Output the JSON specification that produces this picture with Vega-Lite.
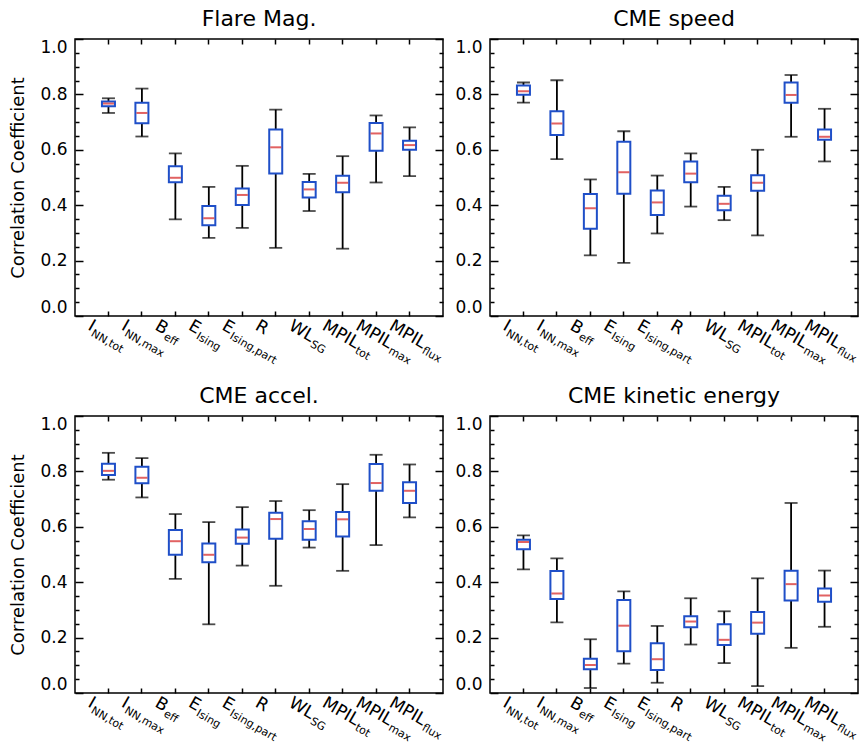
{
"$schema": "https://vega.github.io/schema/vega-lite/v6.json",
"padding": {"left": 9, "top": 7, "right": 4, "bottom": 0},
"background": "white",
"config": {
 "view": {"stroke": "black", "strokeWidth": 1.5},
 "font": "DejaVu Sans",
 "axis": {"domainColor": "black", "domainWidth": 1.5, "tickColor": "black", "tickWidth": 1.5, "labelColor": "black", "labelFont": "DejaVu Sans", "labelFontSize": 17, "titleFont": "DejaVu Sans", "titleFontSize": 18, "titleFontWeight": "normal", "titleColor": "black", "grid": false},
 "title": {"font": "DejaVu Sans", "fontSize": 22, "fontWeight": "normal", "color": "black", "offset": 7}
},
"datasets": {"d": [
{"panel":"Flare Mag.","param":"I_NN,tot","main":"I","sub":"NN,tot","lo":0.733,"q1":0.757,"med":0.767,"q3":0.774,"hi":0.786},
{"panel":"Flare Mag.","param":"I_NN,max","main":"I","sub":"NN,max","lo":0.648,"q1":0.696,"med":0.733,"q3":0.770,"hi":0.821},
{"panel":"Flare Mag.","param":"B_eff","main":"B","sub":"eff","lo":0.349,"q1":0.483,"med":0.499,"q3":0.541,"hi":0.587},
{"panel":"Flare Mag.","param":"E_Ising","main":"E","sub":"Ising","lo":0.282,"q1":0.328,"med":0.353,"q3":0.397,"hi":0.466},
{"panel":"Flare Mag.","param":"E_Ising,part","main":"E","sub":"Ising,part","lo":0.318,"q1":0.401,"med":0.437,"q3":0.460,"hi":0.542},
{"panel":"Flare Mag.","param":"R","main":"R","sub":"","lo":0.246,"q1":0.514,"med":0.609,"q3":0.673,"hi":0.745},
{"panel":"Flare Mag.","param":"WL_SG","main":"WL","sub":"SG","lo":0.379,"q1":0.428,"med":0.457,"q3":0.484,"hi":0.513},
{"panel":"Flare Mag.","param":"MPIL_tot","main":"MPIL","sub":"tot","lo":0.243,"q1":0.447,"med":0.481,"q3":0.506,"hi":0.577},
{"panel":"Flare Mag.","param":"MPIL_max","main":"MPIL","sub":"max","lo":0.482,"q1":0.597,"med":0.659,"q3":0.697,"hi":0.724},
{"panel":"Flare Mag.","param":"MPIL_flux","main":"MPIL","sub":"flux","lo":0.505,"q1":0.600,"med":0.617,"q3":0.633,"hi":0.681},
{"panel":"CME speed","param":"I_NN,tot","main":"I","sub":"NN,tot","lo":0.770,"q1":0.799,"med":0.811,"q3":0.832,"hi":0.843},
{"panel":"CME speed","param":"I_NN,max","main":"I","sub":"NN,max","lo":0.566,"q1":0.653,"med":0.695,"q3":0.739,"hi":0.851},
{"panel":"CME speed","param":"B_eff","main":"B","sub":"eff","lo":0.219,"q1":0.315,"med":0.389,"q3":0.440,"hi":0.493},
{"panel":"CME speed","param":"E_Ising","main":"E","sub":"Ising","lo":0.192,"q1":0.441,"med":0.519,"q3":0.629,"hi":0.667},
{"panel":"CME speed","param":"E_Ising,part","main":"E","sub":"Ising,part","lo":0.298,"q1":0.365,"med":0.410,"q3":0.453,"hi":0.507},
{"panel":"CME speed","param":"R","main":"R","sub":"","lo":0.395,"q1":0.483,"med":0.514,"q3":0.558,"hi":0.587},
{"panel":"CME speed","param":"WL_SG","main":"WL","sub":"SG","lo":0.346,"q1":0.382,"med":0.405,"q3":0.434,"hi":0.466},
{"panel":"CME speed","param":"MPIL_tot","main":"MPIL","sub":"tot","lo":0.291,"q1":0.452,"med":0.481,"q3":0.508,"hi":0.600},
{"panel":"CME speed","param":"MPIL_max","main":"MPIL","sub":"max","lo":0.647,"q1":0.770,"med":0.798,"q3":0.843,"hi":0.870},
{"panel":"CME speed","param":"MPIL_flux","main":"MPIL","sub":"flux","lo":0.558,"q1":0.636,"med":0.647,"q3":0.673,"hi":0.748},
{"panel":"CME accel.","param":"I_NN,tot","main":"I","sub":"NN,tot","lo":0.770,"q1":0.787,"med":0.802,"q3":0.828,"hi":0.867},
{"panel":"CME accel.","param":"I_NN,max","main":"I","sub":"NN,max","lo":0.706,"q1":0.757,"med":0.777,"q3":0.817,"hi":0.848},
{"panel":"CME accel.","param":"B_eff","main":"B","sub":"eff","lo":0.412,"q1":0.499,"med":0.548,"q3":0.588,"hi":0.646},
{"panel":"CME accel.","param":"E_Ising","main":"E","sub":"Ising","lo":0.248,"q1":0.472,"med":0.499,"q3":0.540,"hi":0.617},
{"panel":"CME accel.","param":"E_Ising,part","main":"E","sub":"Ising,part","lo":0.460,"q1":0.539,"med":0.561,"q3":0.590,"hi":0.671},
{"panel":"CME accel.","param":"R","main":"R","sub":"","lo":0.387,"q1":0.557,"med":0.628,"q3":0.651,"hi":0.693},
{"panel":"CME accel.","param":"WL_SG","main":"WL","sub":"SG","lo":0.525,"q1":0.553,"med":0.592,"q3":0.620,"hi":0.660},
{"panel":"CME accel.","param":"MPIL_tot","main":"MPIL","sub":"tot","lo":0.441,"q1":0.565,"med":0.627,"q3":0.653,"hi":0.754},
{"panel":"CME accel.","param":"MPIL_max","main":"MPIL","sub":"max","lo":0.534,"q1":0.730,"med":0.758,"q3":0.827,"hi":0.860},
{"panel":"CME accel.","param":"MPIL_flux","main":"MPIL","sub":"flux","lo":0.634,"q1":0.686,"med":0.730,"q3":0.761,"hi":0.825},
{"panel":"CME kinetic energy","param":"I_NN,tot","main":"I","sub":"NN,tot","lo":0.446,"q1":0.519,"med":0.545,"q3":0.553,"hi":0.569},
{"panel":"CME kinetic energy","param":"I_NN,max","main":"I","sub":"NN,max","lo":0.255,"q1":0.339,"med":0.359,"q3":0.440,"hi":0.486},
{"panel":"CME kinetic energy","param":"B_eff","main":"B","sub":"eff","lo":0.018,"q1":0.086,"med":0.101,"q3":0.124,"hi":0.194},
{"panel":"CME kinetic energy","param":"E_Ising","main":"E","sub":"Ising","lo":0.106,"q1":0.151,"med":0.243,"q3":0.336,"hi":0.367},
{"panel":"CME kinetic energy","param":"E_Ising,part","main":"E","sub":"Ising,part","lo":0.037,"q1":0.083,"med":0.122,"q3":0.180,"hi":0.242},
{"panel":"CME kinetic energy","param":"R","main":"R","sub":"","lo":0.175,"q1":0.237,"med":0.258,"q3":0.277,"hi":0.342},
{"panel":"CME kinetic energy","param":"WL_SG","main":"WL","sub":"SG","lo":0.108,"q1":0.173,"med":0.192,"q3":0.248,"hi":0.295},
{"panel":"CME kinetic energy","param":"MPIL_tot","main":"MPIL","sub":"tot","lo":0.025,"q1":0.214,"med":0.254,"q3":0.292,"hi":0.414},
{"panel":"CME kinetic energy","param":"MPIL_max","main":"MPIL","sub":"max","lo":0.163,"q1":0.334,"med":0.393,"q3":0.441,"hi":0.686},
{"panel":"CME kinetic energy","param":"MPIL_flux","main":"MPIL","sub":"flux","lo":0.239,"q1":0.329,"med":0.352,"q3":0.377,"hi":0.442}
]},
"concat": [
{
 "width": 368, "height": 277,
 "title": "Flare Mag.",
 "data": {"name": "d"},
 "transform": [{"filter": "datum.panel == 'Flare Mag.'"}],
 "encoding": {"x": {"field": "param", "type": "nominal", "sort": null, "scale": {"paddingInner": 0, "paddingOuter": 0.5}, "axis": null}},
 "layer": [
  {"mark": {"type": "rule", "color": "black", "strokeWidth": 1.8},
   "encoding": {
    "x": {"field": "param", "type": "nominal", "sort": null, "axis": {"orient": "bottom", "labels": false, "tickSize": -5, "domain": false, "title": null}},
    "y": {"field": "lo", "type": "quantitative", "scale": {"domain": [0, 1], "nice": false}, "axis": {"orient": "left", "title": "Correlation Coefficient", "values": [0,0.05,0.1,0.15,0.2,0.25,0.3,0.35,0.4,0.45,0.5,0.55,0.6,0.65,0.7,0.75,0.8,0.85,0.9,0.95,1], "labelExpr": "abs(datum.value*5 - round(datum.value*5)) < 0.001 ? format(datum.value, '.1f') : ''", "tickSize": {"condition": {"test": "abs(datum.value*5 - round(datum.value*5)) < 0.001", "value": -8}, "value": -4}, "labelPadding": 16, "labelFlush": true, "titlePadding": 12, "domain": false}},
    "y2": {"field": "hi"}}},
  {"mark": {"type": "tick", "color": "black", "size": 13, "thickness": 1.8},
   "encoding": {
    "x": {"field": "param", "type": "nominal", "sort": null, "axis": {"orient": "top", "labels": false, "tickSize": -5, "domain": false, "title": null}},
    "y": {"field": "hi", "type": "quantitative", "axis": {"orient": "right", "title": null, "labels": false, "values": [0,0.05,0.1,0.15,0.2,0.25,0.3,0.35,0.4,0.45,0.5,0.55,0.6,0.65,0.7,0.75,0.8,0.85,0.9,0.95,1], "tickSize": {"condition": {"test": "abs(datum.value*5 - round(datum.value*5)) < 0.001", "value": -8}, "value": -4}, "domain": false}}}},
  {"mark": {"type": "tick", "color": "black", "size": 13, "thickness": 1.8},
   "encoding": {"y": {"field": "lo", "type": "quantitative", "axis": null}}},
  {"mark": {"type": "bar", "fill": "white", "stroke": "#1f4fc8", "strokeWidth": 2, "width": 13},
   "encoding": {"y": {"field": "q1", "type": "quantitative", "axis": null}, "y2": {"field": "q3"}}},
  {"mark": {"type": "tick", "color": "#d42020", "size": 11, "thickness": 2},
   "encoding": {"y": {"field": "med", "type": "quantitative", "axis": null}}},
  {"mark": {"type": "text", "angle": 30, "align": "left", "baseline": "top", "dx": -12, "dy": 9, "fontSize": 17, "color": "black"},
   "encoding": {"y": {"datum": 0, "type": "quantitative", "axis": null}, "text": {"field": "main"}}},
  {"mark": {"type": "text", "angle": 30, "align": "left", "baseline": "top", "dx": {"expr": "-11 + (datum.main == 'I' ? 5 : datum.main == 'B' ? 11.7 : datum.main == 'E' ? 10.7 : datum.main == 'WL' ? 26.3 : datum.main == 'MPIL' ? 39.4 : 11)"}, "dy": 17, "fontSize": 11, "color": "black"},
   "encoding": {"y": {"datum": 0, "type": "quantitative", "axis": null}, "text": {"field": "sub"}}}
 ],
 "resolve": {"axis": {"x": "independent", "y": "independent"}}
},
{
 "width": 368, "height": 277,
 "title": "CME speed",
 "data": {"name": "d"},
 "transform": [{"filter": "datum.panel == 'CME speed'"}],
 "encoding": {"x": {"field": "param", "type": "nominal", "sort": null, "scale": {"paddingInner": 0, "paddingOuter": 0.5}, "axis": null}},
 "layer": [
  {"mark": {"type": "rule", "color": "black", "strokeWidth": 1.8},
   "encoding": {
    "x": {"field": "param", "type": "nominal", "sort": null, "axis": {"orient": "bottom", "labels": false, "tickSize": -5, "domain": false, "title": null}},
    "y": {"field": "lo", "type": "quantitative", "scale": {"domain": [0, 1], "nice": false}, "axis": {"orient": "left", "title": null, "values": [0,0.05,0.1,0.15,0.2,0.25,0.3,0.35,0.4,0.45,0.5,0.55,0.6,0.65,0.7,0.75,0.8,0.85,0.9,0.95,1], "labelExpr": "abs(datum.value*5 - round(datum.value*5)) < 0.001 ? format(datum.value, '.1f') : ''", "tickSize": {"condition": {"test": "abs(datum.value*5 - round(datum.value*5)) < 0.001", "value": -8}, "value": -4}, "labelPadding": 16, "labelFlush": true, "domain": false}},
    "y2": {"field": "hi"}}},
  {"mark": {"type": "tick", "color": "black", "size": 13, "thickness": 1.8},
   "encoding": {
    "x": {"field": "param", "type": "nominal", "sort": null, "axis": {"orient": "top", "labels": false, "tickSize": -5, "domain": false, "title": null}},
    "y": {"field": "hi", "type": "quantitative", "axis": {"orient": "right", "title": null, "labels": false, "values": [0,0.05,0.1,0.15,0.2,0.25,0.3,0.35,0.4,0.45,0.5,0.55,0.6,0.65,0.7,0.75,0.8,0.85,0.9,0.95,1], "tickSize": {"condition": {"test": "abs(datum.value*5 - round(datum.value*5)) < 0.001", "value": -8}, "value": -4}, "domain": false}}}},
  {"mark": {"type": "tick", "color": "black", "size": 13, "thickness": 1.8},
   "encoding": {"y": {"field": "lo", "type": "quantitative", "axis": null}}},
  {"mark": {"type": "bar", "fill": "white", "stroke": "#1f4fc8", "strokeWidth": 2, "width": 13},
   "encoding": {"y": {"field": "q1", "type": "quantitative", "axis": null}, "y2": {"field": "q3"}}},
  {"mark": {"type": "tick", "color": "#d42020", "size": 11, "thickness": 2},
   "encoding": {"y": {"field": "med", "type": "quantitative", "axis": null}}},
  {"mark": {"type": "text", "angle": 30, "align": "left", "baseline": "top", "dx": -12, "dy": 9, "fontSize": 17, "color": "black"},
   "encoding": {"y": {"datum": 0, "type": "quantitative", "axis": null}, "text": {"field": "main"}}},
  {"mark": {"type": "text", "angle": 30, "align": "left", "baseline": "top", "dx": {"expr": "-11 + (datum.main == 'I' ? 5 : datum.main == 'B' ? 11.7 : datum.main == 'E' ? 10.7 : datum.main == 'WL' ? 26.3 : datum.main == 'MPIL' ? 39.4 : 11)"}, "dy": 17, "fontSize": 11, "color": "black"},
   "encoding": {"y": {"datum": 0, "type": "quantitative", "axis": null}, "text": {"field": "sub"}}}
 ],
 "resolve": {"axis": {"x": "independent", "y": "independent"}}
},
{
 "width": 368, "height": 277,
 "title": "CME accel.",
 "data": {"name": "d"},
 "transform": [{"filter": "datum.panel == 'CME accel.'"}],
 "encoding": {"x": {"field": "param", "type": "nominal", "sort": null, "scale": {"paddingInner": 0, "paddingOuter": 0.5}, "axis": null}},
 "layer": [
  {"mark": {"type": "rule", "color": "black", "strokeWidth": 1.8},
   "encoding": {
    "x": {"field": "param", "type": "nominal", "sort": null, "axis": {"orient": "bottom", "labels": false, "tickSize": -5, "domain": false, "title": null}},
    "y": {"field": "lo", "type": "quantitative", "scale": {"domain": [0, 1], "nice": false}, "axis": {"orient": "left", "title": "Correlation Coefficient", "values": [0,0.05,0.1,0.15,0.2,0.25,0.3,0.35,0.4,0.45,0.5,0.55,0.6,0.65,0.7,0.75,0.8,0.85,0.9,0.95,1], "labelExpr": "abs(datum.value*5 - round(datum.value*5)) < 0.001 ? format(datum.value, '.1f') : ''", "tickSize": {"condition": {"test": "abs(datum.value*5 - round(datum.value*5)) < 0.001", "value": -8}, "value": -4}, "labelPadding": 16, "labelFlush": true, "titlePadding": 12, "domain": false}},
    "y2": {"field": "hi"}}},
  {"mark": {"type": "tick", "color": "black", "size": 13, "thickness": 1.8},
   "encoding": {
    "x": {"field": "param", "type": "nominal", "sort": null, "axis": {"orient": "top", "labels": false, "tickSize": -5, "domain": false, "title": null}},
    "y": {"field": "hi", "type": "quantitative", "axis": {"orient": "right", "title": null, "labels": false, "values": [0,0.05,0.1,0.15,0.2,0.25,0.3,0.35,0.4,0.45,0.5,0.55,0.6,0.65,0.7,0.75,0.8,0.85,0.9,0.95,1], "tickSize": {"condition": {"test": "abs(datum.value*5 - round(datum.value*5)) < 0.001", "value": -8}, "value": -4}, "domain": false}}}},
  {"mark": {"type": "tick", "color": "black", "size": 13, "thickness": 1.8},
   "encoding": {"y": {"field": "lo", "type": "quantitative", "axis": null}}},
  {"mark": {"type": "bar", "fill": "white", "stroke": "#1f4fc8", "strokeWidth": 2, "width": 13},
   "encoding": {"y": {"field": "q1", "type": "quantitative", "axis": null}, "y2": {"field": "q3"}}},
  {"mark": {"type": "tick", "color": "#d42020", "size": 11, "thickness": 2},
   "encoding": {"y": {"field": "med", "type": "quantitative", "axis": null}}},
  {"mark": {"type": "text", "angle": 30, "align": "left", "baseline": "top", "dx": -12, "dy": 9, "fontSize": 17, "color": "black"},
   "encoding": {"y": {"datum": 0, "type": "quantitative", "axis": null}, "text": {"field": "main"}}},
  {"mark": {"type": "text", "angle": 30, "align": "left", "baseline": "top", "dx": {"expr": "-11 + (datum.main == 'I' ? 5 : datum.main == 'B' ? 11.7 : datum.main == 'E' ? 10.7 : datum.main == 'WL' ? 26.3 : datum.main == 'MPIL' ? 39.4 : 11)"}, "dy": 17, "fontSize": 11, "color": "black"},
   "encoding": {"y": {"datum": 0, "type": "quantitative", "axis": null}, "text": {"field": "sub"}}}
 ],
 "resolve": {"axis": {"x": "independent", "y": "independent"}}
},
{
 "width": 368, "height": 277,
 "title": "CME kinetic energy",
 "data": {"name": "d"},
 "transform": [{"filter": "datum.panel == 'CME kinetic energy'"}],
 "encoding": {"x": {"field": "param", "type": "nominal", "sort": null, "scale": {"paddingInner": 0, "paddingOuter": 0.5}, "axis": null}},
 "layer": [
  {"mark": {"type": "rule", "color": "black", "strokeWidth": 1.8},
   "encoding": {
    "x": {"field": "param", "type": "nominal", "sort": null, "axis": {"orient": "bottom", "labels": false, "tickSize": -5, "domain": false, "title": null}},
    "y": {"field": "lo", "type": "quantitative", "scale": {"domain": [0, 1], "nice": false}, "axis": {"orient": "left", "title": null, "values": [0,0.05,0.1,0.15,0.2,0.25,0.3,0.35,0.4,0.45,0.5,0.55,0.6,0.65,0.7,0.75,0.8,0.85,0.9,0.95,1], "labelExpr": "abs(datum.value*5 - round(datum.value*5)) < 0.001 ? format(datum.value, '.1f') : ''", "tickSize": {"condition": {"test": "abs(datum.value*5 - round(datum.value*5)) < 0.001", "value": -8}, "value": -4}, "labelPadding": 16, "labelFlush": true, "domain": false}},
    "y2": {"field": "hi"}}},
  {"mark": {"type": "tick", "color": "black", "size": 13, "thickness": 1.8},
   "encoding": {
    "x": {"field": "param", "type": "nominal", "sort": null, "axis": {"orient": "top", "labels": false, "tickSize": -5, "domain": false, "title": null}},
    "y": {"field": "hi", "type": "quantitative", "axis": {"orient": "right", "title": null, "labels": false, "values": [0,0.05,0.1,0.15,0.2,0.25,0.3,0.35,0.4,0.45,0.5,0.55,0.6,0.65,0.7,0.75,0.8,0.85,0.9,0.95,1], "tickSize": {"condition": {"test": "abs(datum.value*5 - round(datum.value*5)) < 0.001", "value": -8}, "value": -4}, "domain": false}}}},
  {"mark": {"type": "tick", "color": "black", "size": 13, "thickness": 1.8},
   "encoding": {"y": {"field": "lo", "type": "quantitative", "axis": null}}},
  {"mark": {"type": "bar", "fill": "white", "stroke": "#1f4fc8", "strokeWidth": 2, "width": 13},
   "encoding": {"y": {"field": "q1", "type": "quantitative", "axis": null}, "y2": {"field": "q3"}}},
  {"mark": {"type": "tick", "color": "#d42020", "size": 11, "thickness": 2},
   "encoding": {"y": {"field": "med", "type": "quantitative", "axis": null}}},
  {"mark": {"type": "text", "angle": 30, "align": "left", "baseline": "top", "dx": -12, "dy": 9, "fontSize": 17, "color": "black"},
   "encoding": {"y": {"datum": 0, "type": "quantitative", "axis": null}, "text": {"field": "main"}}},
  {"mark": {"type": "text", "angle": 30, "align": "left", "baseline": "top", "dx": {"expr": "-11 + (datum.main == 'I' ? 5 : datum.main == 'B' ? 11.7 : datum.main == 'E' ? 10.7 : datum.main == 'WL' ? 26.3 : datum.main == 'MPIL' ? 39.4 : 11)"}, "dy": 17, "fontSize": 11, "color": "black"},
   "encoding": {"y": {"datum": 0, "type": "quantitative", "axis": null}, "text": {"field": "sub"}}}
 ],
 "resolve": {"axis": {"x": "independent", "y": "independent"}}
}
],
"columns": 2,
"spacing": {"row": 100, "column": 47},
"bounds": "flush"
}
